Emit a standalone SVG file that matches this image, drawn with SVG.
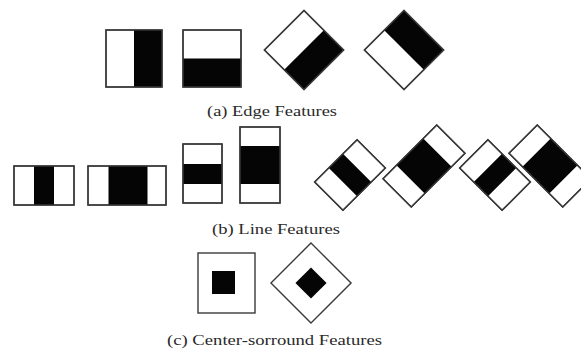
<svg xmlns="http://www.w3.org/2000/svg" width="581" height="354" viewBox="0 0 581 354">
<style>
.frame{fill:#fff;stroke:#3a3a3a;stroke-width:1.4}
.out{fill:none;stroke:#3a3a3a;stroke-width:1.4}
.blk{fill:#050505}
.lbl{font-family:"Liberation Serif","Times New Roman",serif;font-size:15px;fill:#2a2a2a}
</style>
<rect width="581" height="354" fill="#fff"/>
<g id="edge1">
<rect class="frame" x="106" y="30" width="56" height="57"/>
<rect class="blk" x="134" y="30" width="28" height="57"/>
<rect class="out" x="106" y="30" width="56" height="57"/>
</g>
<g id="edge2">
<rect class="frame" x="183" y="30" width="58" height="57"/>
<rect class="blk" x="183" y="58.5" width="58" height="28.5"/>
<rect class="out" x="183" y="30" width="58" height="57"/>
</g>
<g id="edge3" transform="translate(304,50) rotate(45)">
<rect class="frame" x="-28" y="-28" width="56" height="56"/>
<rect class="blk" x="0" y="-28" width="28" height="56"/>
<rect class="out" x="-28" y="-28" width="56" height="56"/>
</g>
<g id="edge4" transform="translate(404,50) rotate(-45)">
<rect class="frame" x="-28" y="-28" width="56" height="56"/>
<rect class="blk" x="0" y="-28" width="28" height="56"/>
<rect class="out" x="-28" y="-28" width="56" height="56"/>
</g>
<text class="lbl" x="207" y="116" textLength="130" lengthAdjust="spacingAndGlyphs">(a) Edge Features</text>
<g id="line1">
<rect class="frame" x="14" y="166" width="60" height="39"/>
<rect class="blk" x="34" y="166" width="20" height="39"/>
<rect class="out" x="14" y="166" width="60" height="39"/>
</g>
<g id="line2">
<rect class="frame" x="88" y="166" width="78" height="39"/>
<rect class="blk" x="108.5" y="166" width="39" height="39"/>
<rect class="out" x="88" y="166" width="78" height="39"/>
</g>
<g id="line3">
<rect class="frame" x="183" y="144" width="39" height="59"/>
<rect class="blk" x="183" y="164" width="39" height="20"/>
<rect class="out" x="183" y="144" width="39" height="59"/>
</g>
<g id="line4">
<rect class="frame" x="240" y="127" width="40" height="76"/>
<rect class="blk" x="240" y="146" width="40" height="38"/>
<rect class="out" x="240" y="127" width="40" height="76"/>
</g>
<g id="line5" transform="translate(350,175) rotate(45)">
<rect class="frame" x="-20" y="-30" width="40" height="60"/>
<rect class="blk" x="-20" y="-10" width="40" height="20"/>
<rect class="out" x="-20" y="-30" width="40" height="60"/>
</g>
<g id="line6" transform="translate(424,166) rotate(45)">
<rect class="frame" x="-20" y="-38" width="40" height="76"/>
<rect class="blk" x="-20" y="-19" width="40" height="38"/>
<rect class="out" x="-20" y="-38" width="40" height="76"/>
</g>
<g id="line7" transform="translate(495,175) rotate(-45)">
<rect class="frame" x="-20" y="-30" width="40" height="60"/>
<rect class="blk" x="-20" y="-10" width="40" height="20"/>
<rect class="out" x="-20" y="-30" width="40" height="60"/>
</g>
<g id="line8" transform="translate(550,166) rotate(-45)">
<rect class="frame" x="-20" y="-38" width="40" height="76"/>
<rect class="blk" x="-20" y="-19" width="40" height="38"/>
<rect class="out" x="-20" y="-38" width="40" height="76"/>
</g>
<text class="lbl" x="212" y="234" textLength="128" lengthAdjust="spacingAndGlyphs">(b) Line Features</text>
<g id="center1">
<rect class="frame" x="198" y="253" width="57" height="60"/>
<rect class="blk" x="212" y="271" width="23" height="23"/>
</g>
<g id="center2" transform="translate(311,283) rotate(45)">
<rect class="frame" x="-28.3" y="-28.3" width="56.6" height="56.6"/>
<rect class="blk" x="-11" y="-11" width="22" height="22"/>
</g>
<text class="lbl" x="167" y="345" textLength="215" lengthAdjust="spacingAndGlyphs">(c) Center-sorround Features</text>
</svg>
